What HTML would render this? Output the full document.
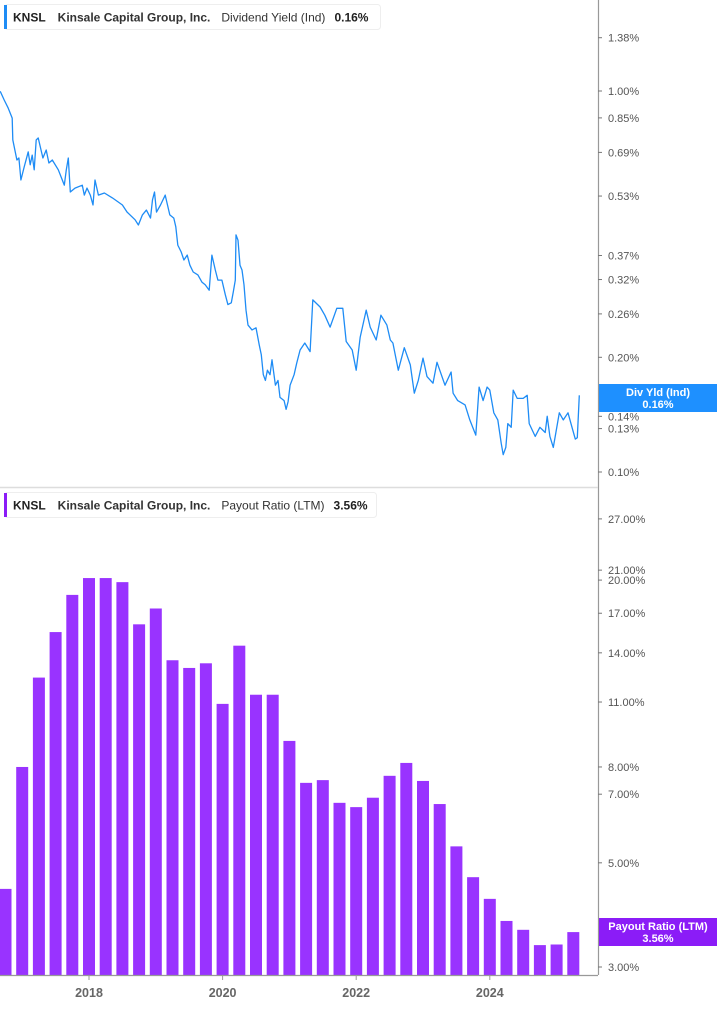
<!DOCTYPE html>
<html><head><meta charset="utf-8">
<style>
html,body{margin:0;padding:0;background:#fff;}
body{width:717px;height:1005px;overflow:hidden;font-family:"Liberation Sans",sans-serif;}
svg text{font-family:"Liberation Sans",sans-serif;}
</style></head>
<body>
<svg id="chart" width="717" height="1005" xmlns="http://www.w3.org/2000/svg">
  <g id="topPane"></g>
  <g id="botPane"></g>
  <line x1="598.5" y1="0" x2="598.5" y2="975" stroke="#999" stroke-width="1.2"/>
  <line x1="0" y1="487.5" x2="598" y2="487.5" stroke="#ddd" stroke-width="1.5"/>
  <line x1="0" y1="975.5" x2="598" y2="975.5" stroke="#999" stroke-width="1.2"/>
  <g id="xaxis"></g>

  <g>
    <rect x="4.5" y="4.5" width="376" height="25" rx="3" fill="#fff" stroke="#eee"/>
    <rect x="4" y="5" width="3" height="24" fill="#1e8cf5"/>
    <text x="13" y="21.5" font-size="12" fill="#222"><tspan font-weight="bold">KNSL</tspan><tspan dx="12" font-weight="bold" fill="#333">Kinsale Capital Group, Inc.</tspan><tspan dx="11" fill="#333">Dividend Yield (Ind)</tspan><tspan dx="9" font-weight="bold">0.16%</tspan></text>
  </g>
  <g>
    <rect x="4.5" y="492.5" width="372" height="25" rx="3" fill="#fff" stroke="#eee"/>
    <rect x="4" y="493" width="3" height="24" fill="#8b1cf7"/>
    <text x="13" y="509.5" font-size="12" fill="#222"><tspan font-weight="bold">KNSL</tspan><tspan dx="12" font-weight="bold" fill="#333">Kinsale Capital Group, Inc.</tspan><tspan dx="11" fill="#333">Payout Ratio (LTM)</tspan><tspan dx="9" font-weight="bold">3.56%</tspan></text>
  </g>
</svg>
<script>
const yieldDates=[2016.67,2016.73,2016.79,2016.85,2016.86,2016.92,2016.95,2016.98,2017.03,2017.09,2017.12,2017.15,2017.18,2017.21,2017.24,2017.31,2017.36,2017.40,2017.45,2017.54,2017.60,2017.63,2017.66,2017.69,2017.72,2017.79,2017.90,2017.93,2017.97,2018.02,2018.06,2018.09,2018.14,2018.23,2018.35,2018.44,2018.50,2018.57,2018.69,2018.74,2018.80,2018.86,2018.92,2018.95,2018.98,2019.01,2019.07,2019.14,2019.21,2019.27,2019.30,2019.33,2019.38,2019.42,2019.47,2019.51,2019.56,2019.63,2019.69,2019.74,2019.80,2019.84,2019.89,2019.93,2019.99,2020.04,2020.08,2020.13,2020.16,2020.19,2020.20,2020.23,2020.26,2020.29,2020.32,2020.35,2020.38,2020.44,2020.50,2020.55,2020.58,2020.61,2020.64,2020.67,2020.71,2020.74,2020.79,2020.83,2020.86,2020.92,2020.95,2020.98,2021.01,2021.07,2021.11,2021.16,2021.23,2021.31,2021.35,2021.46,2021.53,2021.61,2021.71,2021.80,2021.85,2021.94,2022.00,2022.06,2022.15,2022.21,2022.30,2022.37,2022.46,2022.51,2022.55,2022.63,2022.72,2022.81,2022.87,2022.93,2023.00,2023.06,2023.15,2023.21,2023.33,2023.42,2023.45,2023.52,2023.63,2023.70,2023.79,2023.84,2023.90,2023.96,2024.00,2024.06,2024.12,2024.17,2024.20,2024.24,2024.27,2024.32,2024.35,2024.41,2024.50,2024.56,2024.59,2024.68,2024.75,2024.83,2024.86,2024.90,2024.95,2024.99,2025.04,2025.10,2025.17,2025.23,2025.28,2025.31,2025.34];
const yieldValues=[0.998,0.947,0.902,0.849,0.744,0.659,0.667,0.584,0.632,0.692,0.640,0.679,0.621,0.744,0.753,0.667,0.700,0.647,0.659,0.621,0.584,0.566,0.621,0.667,0.543,0.556,0.566,0.533,0.556,0.533,0.502,0.584,0.533,0.540,0.524,0.511,0.502,0.481,0.459,0.445,0.473,0.487,0.464,0.518,0.543,0.481,0.502,0.533,0.473,0.464,0.440,0.394,0.378,0.360,0.371,0.349,0.335,0.329,0.315,0.310,0.300,0.371,0.339,0.319,0.319,0.292,0.275,0.278,0.297,0.319,0.419,0.406,0.349,0.339,0.310,0.266,0.243,0.236,0.239,0.215,0.203,0.180,0.174,0.185,0.180,0.197,0.169,0.174,0.157,0.154,0.146,0.153,0.169,0.180,0.193,0.209,0.218,0.207,0.283,0.271,0.258,0.240,0.269,0.269,0.220,0.209,0.185,0.226,0.266,0.240,0.222,0.258,0.243,0.222,0.218,0.185,0.212,0.191,0.161,0.174,0.199,0.178,0.171,0.194,0.169,0.183,0.161,0.154,0.150,0.137,0.125,0.167,0.154,0.167,0.164,0.143,0.137,0.119,0.111,0.116,0.134,0.131,0.164,0.156,0.156,0.159,0.134,0.124,0.131,0.127,0.140,0.124,0.116,0.127,0.143,0.137,0.143,0.131,0.122,0.123,0.159];
const yieldTicks=[1.38,1.00,0.85,0.69,0.53,0.37,0.32,0.26,0.20,0.14,0.13,0.10];
const payoutDates=[2016.75,2017.00,2017.25,2017.50,2017.75,2018.00,2018.25,2018.50,2018.75,2019.00,2019.25,2019.50,2019.75,2020.00,2020.25,2020.50,2020.75,2021.00,2021.25,2021.50,2021.75,2022.00,2022.25,2022.50,2022.75,2023.00,2023.25,2023.50,2023.75,2024.00,2024.25,2024.50,2024.75,2025.00,2025.25];
const payoutValues=[4.40,8.00,12.4,15.5,18.6,20.2,20.2,19.8,16.1,17.4,13.5,13.0,13.3,10.9,14.5,11.4,11.4,9.09,7.40,7.50,6.71,6.57,6.88,7.66,8.16,7.47,6.67,5.42,4.66,4.19,3.76,3.60,3.34,3.35,3.56];
const payoutTicks=[27,21,20,17,14,11,8,7,5,3];
const yearTicks=[2018,2020,2022,2024];

const NS="http://www.w3.org/2000/svg";
function mk(tag,attrs,parent){const e=document.createElementNS(NS,tag);for(const k in attrs)e.setAttribute(k,attrs[k]);parent.appendChild(e);return e;}
const xScale=t=>89+(t-2018)*66.8;
const yTop=v=>91-381*Math.log10(v);
const yBot=v=>967-469.6*Math.log10(v/3);
const topG=document.getElementById('topPane'),botG=document.getElementById('botPane'),xa=document.getElementById('xaxis');
const svgEl=document.getElementById('chart');

let d='';
yieldDates.forEach((t,i)=>{d+=(i?'L':'M')+xScale(t).toFixed(1)+','+yTop(yieldValues[i]).toFixed(1);});
const ln=mk('path',{d:d,fill:'none',stroke:'#1e8cf5','stroke-width':1.3,'stroke-linejoin':'round'},topG);



payoutDates.forEach((t,i)=>{
  const cx=xScale(t),y=yBot(payoutValues[i]);
  const x0=Math.max(0,cx-6);const w=cx+6-x0;
  const r=mk('rect',{x:x0,y:y,width:w,height:975-y,fill:'#9933ff'},botG);
  
  
});

function ticks(arr,sc,fmt,name){
  arr.forEach(v=>{
    const y=sc(v);
    const g=mk('g',{},svgEl);
    
    
    mk('line',{x1:598,y1:y,x2:602,y2:y,stroke:'#777'},g);
    const tx=mk('text',{x:608,y:y+4,'font-size':11,fill:'#555'},g);
    tx.textContent=fmt(v);
  });
}
ticks(yieldTicks,yTop,v=>v.toFixed(2)+'%','yield-tick');
ticks(payoutTicks,yBot,v=>v.toFixed(2)+'%','payout-tick');

yearTicks.forEach(yr=>{
  const x=xScale(yr);
  const g=mk('g',{},xa);
  
  
  mk('line',{x1:x,y1:975,x2:x,y2:980,stroke:'#999'},g);
  const t=mk('text',{x:x,y:997,'font-size':12.5,'font-weight':'bold',fill:'#666','text-anchor':'middle'},g);
  t.textContent=yr;
});

function badge(y1,h,color,l1,l2,name){
  const g=mk('g',{},svgEl);
  
  
  mk('rect',{x:599,y:y1,width:118,height:h,fill:color},g);
  const a=mk('text',{x:658,y:y1+12,'font-size':11,'font-weight':'bold',fill:'#fff','text-anchor':'middle'},g);a.textContent=l1;
  const b=mk('text',{x:658,y:y1+24,'font-size':11,'font-weight':'bold',fill:'#fff','text-anchor':'middle'},g);b.textContent=l2;
}
badge(384,28,'#1e90ff','Div Yld (Ind)','0.16%','dividend-yield-badge');
badge(918,28,'#8b1cf7','Payout Ratio (LTM)','3.56%','payout-ratio-badge');
</script>
</body></html>
